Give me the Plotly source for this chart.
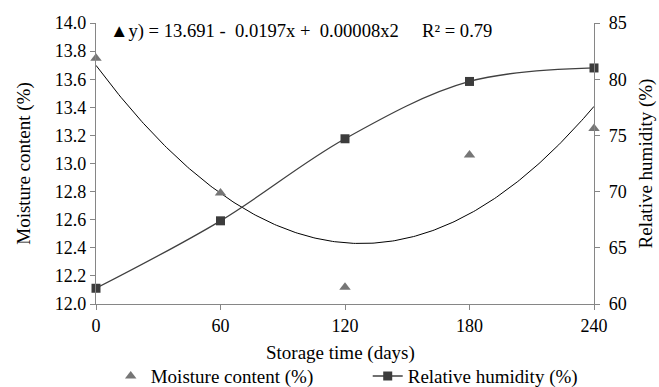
import numpy as np
import plotly.graph_objects as go

days = [0, 60, 120, 180, 240]
moisture = [13.75, 12.79, 12.12, 13.06, 13.25]
humidity = [61.4, 67.4, 74.7, 79.8, 81.0]
x_ticks = [0, 60, 120, 180, 240]
left_ticks = [12.0, 12.2, 12.4, 12.6, 12.8, 13.0, 13.2, 13.4, 13.6, 13.8, 14.0]
right_ticks = [60, 65, 70, 75, 80, 85]
equation = "\u25b2y) = 13.691 -\u00a0 0.0197x +\u00a0 0.00008x2\u00a0\u00a0\u00a0\u00a0 R\u00b2 = 0.79"
x_title = "Storage time (days)"

FONT = "Liberation Serif"
AX = "#868686"

coef = np.polyfit(days, moisture, 2)
xs = np.linspace(0, 240, 241)
trend = np.polyval(coef, xs)

fig = go.Figure()
fig.add_trace(go.Scatter(x=xs, y=trend, mode="lines", line=dict(color="black", width=1),
                         showlegend=False, hoverinfo="skip", cliponaxis=False))
fig.add_trace(go.Scatter(x=days, y=moisture, mode="markers", name="Moisture content (%)",
                         marker=dict(symbol="triangle-up", size=10, color="#767676"),
                         cliponaxis=False, legend="legend"))
fig.add_trace(go.Scatter(x=days, y=humidity, mode="lines+markers", name="Relative humidity (%)",
                         yaxis="y2", line=dict(color="#404040", width=1.3, shape="spline", smoothing=1),
                         marker=dict(symbol="square", size=9, color="#3c3c3c"),
                         cliponaxis=False, legend="legend2"))

axis_common = dict(showline=True, linecolor=AX, linewidth=1.3, ticks="outside", tickcolor=AX,
                   ticklen=5, showgrid=False, zeroline=False, automargin=True,
                   tickfont=dict(family=FONT, size=18, color="black"))

legend_common = dict(orientation="h", xanchor="left", xref="container", yref="container",
                     y=0.028, yanchor="middle", font=dict(family=FONT, size=19),
                     bgcolor="rgba(0,0,0,0)")

fig.update_layout(
    width=659, height=387,
    margin=dict(l=96, r=65, t=23, b=83, autoexpand=False),
    paper_bgcolor="white", plot_bgcolor="white",
    font=dict(family=FONT, size=18, color="black"),
    xaxis=dict(range=[0, 240], tickvals=x_ticks, **axis_common),
    yaxis=dict(range=[12, 14], tickvals=left_ticks, tickformat=".1f", **axis_common,
               title=dict(text="Moisture content (%)", font=dict(family=FONT, size=19), standoff=19)),
    yaxis2=dict(range=[60, 85], tickvals=right_ticks, overlaying="y", side="right", **axis_common,
                ticklabelstandoff=5,
                title=dict(text="Relative humidity (%)", font=dict(family=FONT, size=19), standoff=12)),
    legend=dict(x=0.168, **legend_common),
    legend2=dict(x=0.558, **legend_common),
    annotations=[
        dict(text=equation, xref="paper", yref="paper", x=0.024, y=0.97,
             xanchor="left", yanchor="middle", showarrow=False,
             font=dict(family=FONT, size=18.6, color="black")),
        dict(text=x_title, xref="paper", yref="paper", x=0.49, y=-0.173,
             xanchor="center", yanchor="middle", showarrow=False,
             font=dict(family=FONT, size=19, color="black")),
    ],
)

fig.write_html("out.html")
